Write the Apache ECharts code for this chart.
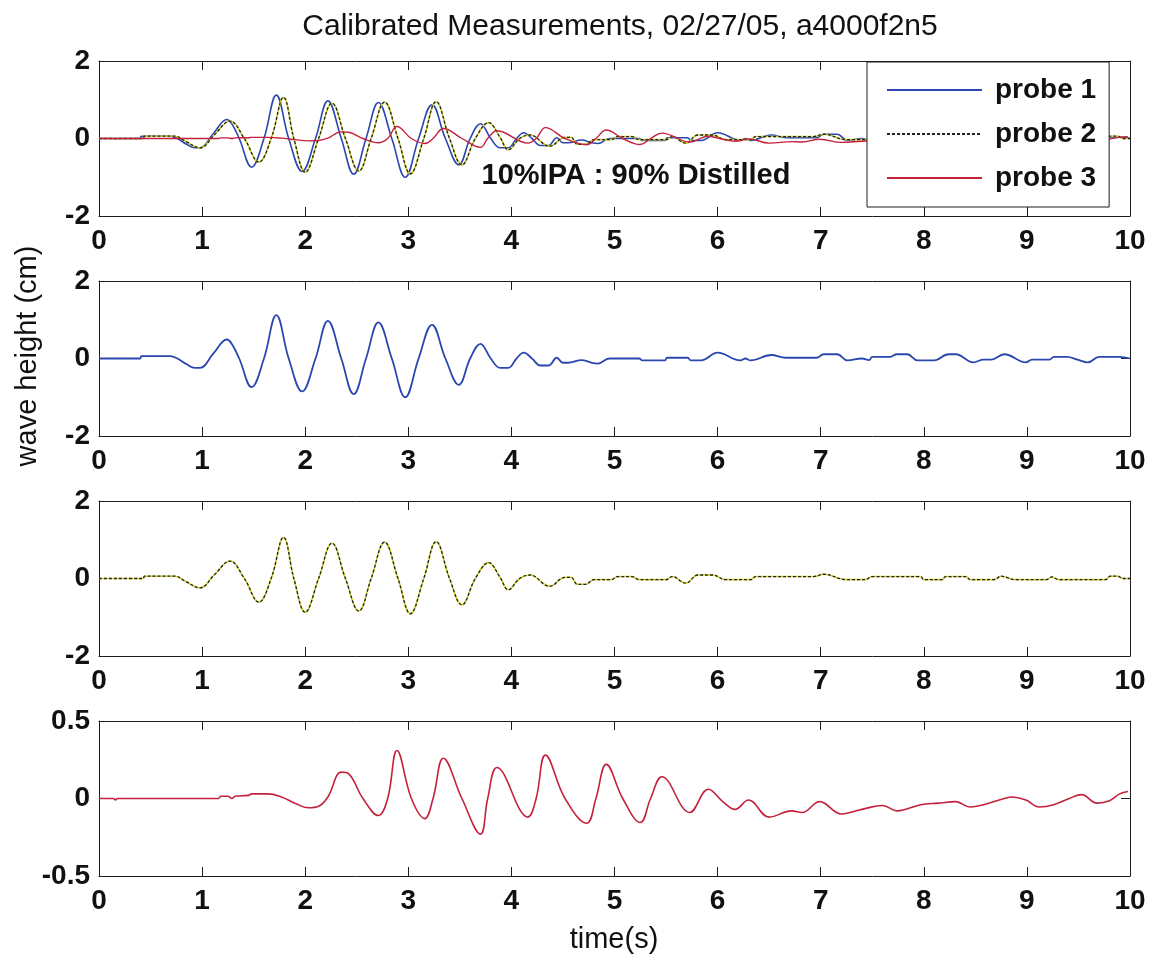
<!DOCTYPE html>
<html>
<head>
<meta charset="utf-8">
<script src="https://cdn.jsdelivr.net/npm/echarts@6/dist/echarts.min.js"></script>
<style>
html, body { margin: 0; padding: 0; background: #fff; }
#main { width: 1157px; height: 961px; }
</style>
</head>
<body>
<div id="main"></div>
<script>
// time (s), wave height (cm)
var probe1 = [
    [0, 0], [0.40, 0], [0.41, 0.06], [0.69, 0.06], [0.76, 0], [0.85, -0.15], [0.93, -0.24], [0.98, -0.24],
    [1.11, 0.13], [1.24, 0.49], [1.29, 0.37], [1.36, 0], [1.48, -0.74], [1.60, 0], [1.72, 1.12], [1.84, 0],
    [1.97, -0.85], [2.10, 0], [2.22, 0.97], [2.35, 0], [2.47, -0.92], [2.59, 0], [2.71, 0.93], [2.84, 0],
    [2.97, -1.0], [3.10, 0], [3.23, 0.87], [3.36, 0], [3.49, -0.68], [3.60, 0], [3.70, 0.38], [3.80, 0],
    [3.89, -0.24], [3.97, -0.24], [4.05, 0], [4.12, 0.15], [4.20, 0], [4.28, -0.18], [4.36, -0.18],
    [4.44, 0.02], [4.50, -0.11], [4.55, -0.11], [4.68, -0.04], [4.78, -0.11], [4.84, -0.13], [4.95, 0],
    [5.24, 0], [5.27, -0.05], [5.49, -0.05], [5.51, 0.02], [5.71, 0.02], [5.74, -0.05], [5.84, -0.05],
    [6.0, 0.15], [6.22, -0.05], [6.27, 0], [6.32, -0.05], [6.52, 0.09], [6.66, 0.02], [6.96, 0.02],
    [7.03, 0.11], [7.16, 0.11], [7.26, -0.05], [7.40, 0], [7.47, -0.04], [7.50, 0.04], [7.67, 0.04],
    [7.74, 0.11], [7.84, 0.11], [7.94, -0.05], [8.10, -0.05], [8.24, 0.11], [8.31, 0.11], [8.48, -0.1],
    [8.58, -0.03], [8.65, -0.03], [8.78, 0.11], [8.99, -0.1], [9.05, -0.03], [9.22, -0.03], [9.26, 0.04],
    [9.39, 0.04], [9.49, -0.03], [9.59, -0.1], [9.70, 0.04], [9.90, 0.04], [10, 0]
];
var probe2 = [
    [0, 0], [0.43, 0], [0.44, 0.06], [0.74, 0.06], [0.83, -0.06], [0.98, -0.24], [1.12, 0.1], [1.27, 0.45],
    [1.41, 0], [1.55, -0.61], [1.67, 0], [1.79, 1.06], [1.89, 0], [2.0, -0.87], [2.13, 0], [2.26, 0.91],
    [2.39, 0], [2.52, -0.84], [2.64, 0], [2.77, 0.94], [2.90, 0], [3.02, -0.91], [3.15, 0], [3.27, 0.95],
    [3.40, 0], [3.52, -0.68], [3.65, 0], [3.78, 0.41], [3.89, 0.03], [3.97, -0.29], [4.08, 0], [4.18, 0.09],
    [4.37, -0.2], [4.52, 0.03], [4.58, 0.03], [4.64, -0.15], [4.72, -0.15], [4.80, -0.03], [4.97, -0.03],
    [5.03, 0.05], [5.17, 0.05], [5.24, -0.03], [5.50, -0.03], [5.56, 0.05], [5.69, -0.12], [5.81, 0.09],
    [5.95, 0.09], [6.08, -0.03], [6.32, -0.03], [6.37, 0.05], [6.93, 0.05], [7.03, 0.11], [7.25, -0.03],
    [7.43, -0.03], [7.50, 0.05], [7.97, 0.05], [8.0, -0.03], [8.18, -0.03], [8.21, 0.05], [8.41, 0.05],
    [8.45, -0.03], [8.68, -0.03], [8.75, 0.06], [8.89, -0.03], [9.19, -0.03], [9.24, 0.04], [9.31, -0.03],
    [9.76, -0.03], [9.81, 0.06], [9.88, 0.06], [9.93, 0], [10, 0]
];
var probe3 = [
    [0, 0], [0.14, 0], [0.16, -0.01], [0.18, 0], [1.16, 0], [1.18, 0.015], [1.25, 0.015], [1.29, 0],
    [1.32, 0.015], [1.45, 0.02], [1.48, 0.03], [1.64, 0.03], [1.77, 0.01], [1.90, -0.03], [2.03, -0.06],
    [2.13, -0.05], [2.22, 0.01], [2.35, 0.17], [2.42, 0.16], [2.56, 0], [2.71, -0.11], [2.80, 0],
    [2.89, 0.31], [3.03, 0], [3.16, -0.13], [3.24, 0], [3.34, 0.26], [3.52, 0], [3.70, -0.23], [3.77, 0],
    [3.86, 0.2], [4.16, -0.12], [4.24, 0], [4.33, 0.28], [4.52, 0], [4.73, -0.16], [4.82, 0], [4.92, 0.22],
    [5.08, 0], [5.25, -0.155], [5.35, 0], [5.46, 0.14], [5.73, -0.09], [5.91, 0.06], [6.05, -0.02],
    [6.17, -0.07], [6.30, -0.01], [6.50, -0.12], [6.72, -0.08], [6.82, -0.09], [6.99, -0.02], [7.20, -0.1],
    [7.40, -0.07], [7.60, -0.045], [7.74, -0.08], [7.97, -0.04], [8.14, -0.03], [8.31, -0.02],
    [8.45, -0.055], [8.58, -0.04], [8.78, 0], [8.85, 0.01], [8.99, -0.01], [9.12, -0.055], [9.26, -0.04],
    [9.41, 0], [9.53, 0.025], [9.68, -0.03], [9.80, -0.015], [9.90, 0.03], [9.98, 0.045]
];

var probeNames = ['probe 1', 'probe 2', 'probe 3'];
var xRange = [0, 10, 1];                       // min, max, tick step
var yRanges = [[-2, 2, 2], [-2, 2, 2], [-2, 2, 2], [-0.5, 0.5, 0.5]];
var titleText = 'Calibrated Measurements, 02/27/05, a4000f2n5';
var noteText = '10%IPA : 90% Distilled';

var FONT = '"Liberation Sans", Arial, Helvetica, sans-serif';
var INK = '#1c1c1c';
var BLUE = '#2a47b0', YELLOW = '#d6d430', RED = '#c4213d';
var plotTops = [61, 281, 501, 721];

var grids = [], xAxes = [], yAxes = [];
plotTops.forEach(function (top, i) {
    grids.push({ left: 99, top: top, width: 1031, height: 155, outerBoundsMode: 'none' });
    ['bottom', 'top'].forEach(function (pos) {
        xAxes.push({
            gridIndex: i, type: 'value', position: pos,
            min: xRange[0], max: xRange[1], interval: xRange[2],
            axisLine: { show: true, onZero: false, lineStyle: { color: INK, width: 1 } },
            axisTick: { show: true, inside: true, length: 9, lineStyle: { color: INK } },
            axisLabel: { show: pos === 'bottom', fontSize: 28, fontWeight: 'bold', color: '#111', fontFamily: FONT, margin: 11 },
            splitLine: { show: false }
        });
    });
    ['left', 'right'].forEach(function (pos) {
        yAxes.push({
            gridIndex: i, type: 'value', position: pos,
            min: yRanges[i][0], max: yRanges[i][1], interval: yRanges[i][2],
            axisLine: { show: true, onZero: false, lineStyle: { color: INK, width: 1 } },
            axisTick: { show: true, inside: true, length: 9, lineStyle: { color: INK } },
            axisLabel: { show: pos === 'left', fontSize: 28, fontWeight: 'bold', color: '#111', fontFamily: FONT, margin: 9 },
            splitLine: { show: false }
        });
    });
});

function trace(name, data, g, color, width, dash) {
    return {
        name: name, type: 'line', data: data,
        xAxisIndex: 2 * g, yAxisIndex: 2 * g,
        symbol: 'none', showSymbol: false, smooth: 0.4,
        lineStyle: { color: color, width: width, type: dash || 'solid' },
        itemStyle: { color: color },
        emphasis: { disabled: true }
    };
}

var series = [
    trace(probeNames[0], probe1, 0, BLUE, 1.6),
    trace('probe 2 (under)', probe2, 0, YELLOW, 1.6),
    trace(probeNames[1], probe2, 0, '#222', 1.3, [3, 2]),
    trace(probeNames[2], probe3, 0, RED, 1.4),
    trace(probeNames[0], probe1, 1, BLUE, 1.8),
    trace('probe 2 (under)', probe2, 2, YELLOW, 1.6),
    trace(probeNames[1], probe2, 2, '#222', 1.3, [3, 2]),
    trace(probeNames[2], probe3, 3, RED, 1.6)
];

echarts.init(document.getElementById('main')).setOption({
    animation: false,
    backgroundColor: '#fff',
    grid: grids,
    xAxis: xAxes,
    yAxis: yAxes,
    legend: {
        data: probeNames,
        orient: 'vertical',
        left: 867, top: 62,
        padding: [13, 13, 14, 19],
        itemWidth: 95, itemHeight: 30, itemGap: 14,
        itemStyle: { opacity: 0 },
        backgroundColor: '#fff',
        borderColor: INK, borderWidth: 1,
        textStyle: { fontSize: 28, fontWeight: 'bold', color: '#111', fontFamily: FONT, padding: [0, 0, 0, 8], lineHeight: 30 }
    },
    graphic: [
        { type: 'text', x: 620, y: 27, style: { text: titleText, font: '30px ' + FONT, fill: '#111', align: 'center', verticalAlign: 'middle' } },
        { type: 'text', x: 636, y: 176, z: 10, style: { text: noteText, font: 'bold 29px ' + FONT, fill: '#111', align: 'center', verticalAlign: 'middle' } },
        { type: 'text', x: 28, y: 356, rotation: Math.PI / 2, style: { text: 'wave height (cm)', font: '29px ' + FONT, fill: '#111', align: 'center', verticalAlign: 'middle' } },
        { type: 'text', x: 614, y: 940, style: { text: 'time(s)', font: '29px ' + FONT, fill: '#111', align: 'center', verticalAlign: 'middle' } }
    ],
    series: series
});
</script>
</body>
</html>
